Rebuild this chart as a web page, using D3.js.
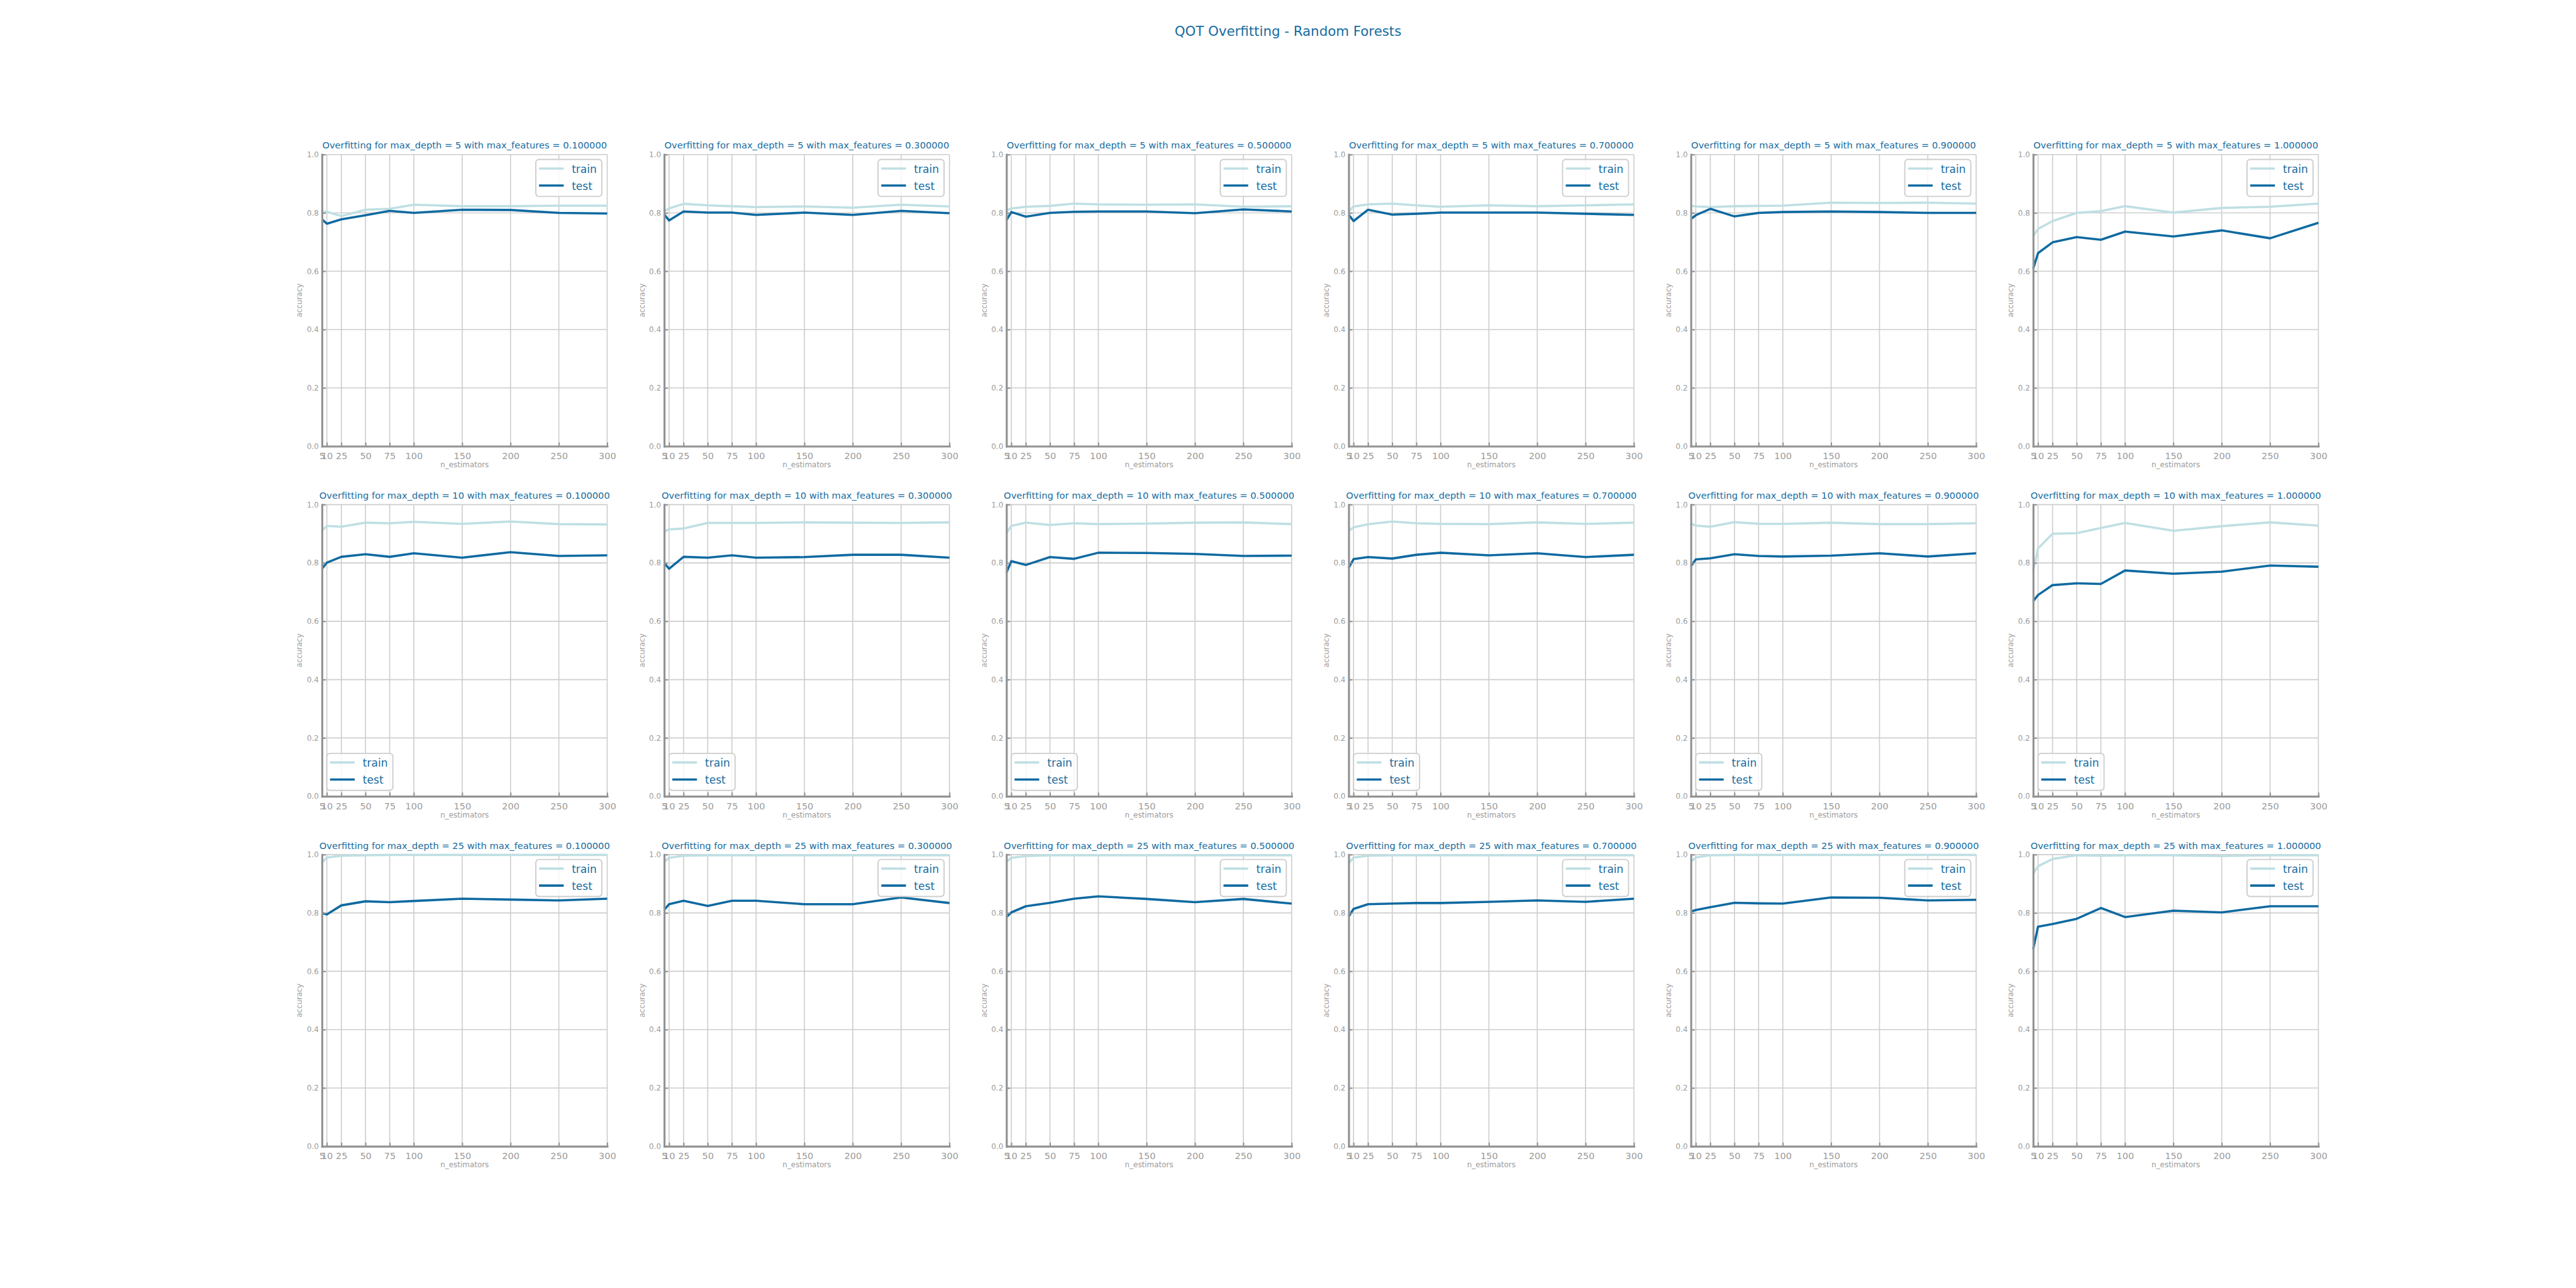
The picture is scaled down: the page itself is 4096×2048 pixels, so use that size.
<!DOCTYPE html>
<html>
<head>
<meta charset="utf-8">
<script src="https://cdn.jsdelivr.net/npm/d3@7"></script>
<style>
html,body{margin:0;padding:0;background:#fff;}
svg{display:block;}
</style>
</head>
<body>
<script>
// ---- data ----
const nEstimators = [5, 10, 25, 50, 75, 100, 150, 200, 250, 300];
const maxDepths = [5, 10, 25];
const maxFeatures = [0.1, 0.3, 0.5, 0.7, 0.9, 1.0];
const xTickLabels = [5, 10, 25, 50, 75, 100, 150, 200, 250, 300];
const yTickLabels = [0.0, 0.2, 0.4, 0.6, 0.8, 1.0];
const seriesNames = ["train", "test"];
const legendLocs = ["upper right", "lower left", "upper right"];

const trainDepth5 = [
  [0.803, 0.804, 0.789, 0.811, 0.814, 0.828, 0.823, 0.823, 0.825, 0.825],
  [0.805, 0.815, 0.831, 0.826, 0.823, 0.820, 0.822, 0.818, 0.828, 0.822],
  [0.809, 0.815, 0.821, 0.824, 0.832, 0.829, 0.828, 0.829, 0.821, 0.823],
  [0.805, 0.822, 0.829, 0.832, 0.826, 0.821, 0.826, 0.823, 0.826, 0.829],
  [0.825, 0.822, 0.820, 0.823, 0.824, 0.825, 0.835, 0.834, 0.835, 0.832],
  [0.720, 0.745, 0.772, 0.800, 0.806, 0.823, 0.801, 0.817, 0.821, 0.832]
];
const testDepth5 = [
  [0.778, 0.763, 0.778, 0.792, 0.807, 0.800, 0.811, 0.810, 0.800, 0.798],
  [0.795, 0.774, 0.805, 0.801, 0.801, 0.793, 0.801, 0.793, 0.807, 0.799],
  [0.775, 0.803, 0.787, 0.800, 0.804, 0.805, 0.805, 0.799, 0.812, 0.805],
  [0.794, 0.772, 0.811, 0.794, 0.797, 0.801, 0.801, 0.801, 0.797, 0.793],
  [0.779, 0.792, 0.814, 0.788, 0.800, 0.803, 0.805, 0.803, 0.800, 0.800],
  [0.609, 0.662, 0.699, 0.717, 0.708, 0.736, 0.719, 0.740, 0.713, 0.766]
];
const trainDepth10 = [
  [0.911, 0.927, 0.924, 0.938, 0.936, 0.941, 0.934, 0.942, 0.933, 0.932],
  [0.908, 0.915, 0.918, 0.937, 0.937, 0.937, 0.939, 0.938, 0.937, 0.939],
  [0.902, 0.927, 0.938, 0.930, 0.936, 0.933, 0.935, 0.938, 0.939, 0.933],
  [0.910, 0.922, 0.933, 0.942, 0.936, 0.934, 0.933, 0.939, 0.934, 0.938],
  [0.935, 0.928, 0.924, 0.940, 0.934, 0.934, 0.938, 0.933, 0.933, 0.936],
  [0.774, 0.850, 0.900, 0.902, 0.920, 0.937, 0.910, 0.926, 0.939, 0.928]
];
const testDepth10 = [
  [0.780, 0.801, 0.821, 0.830, 0.821, 0.833, 0.818, 0.837, 0.824, 0.826],
  [0.800, 0.780, 0.821, 0.818, 0.826, 0.818, 0.820, 0.828, 0.828, 0.818],
  [0.767, 0.806, 0.793, 0.820, 0.814, 0.835, 0.834, 0.831, 0.824, 0.825],
  [0.783, 0.813, 0.820, 0.815, 0.828, 0.835, 0.826, 0.833, 0.820, 0.828],
  [0.789, 0.812, 0.816, 0.830, 0.824, 0.822, 0.825, 0.833, 0.822, 0.833],
  [0.669, 0.690, 0.724, 0.730, 0.728, 0.774, 0.763, 0.770, 0.791, 0.787]
];
const trainDepth25 = [
  [0.972, 0.990, 0.996, 0.998, 0.999, 0.999, 0.999, 0.999, 0.999, 0.999],
  [0.976, 0.989, 0.996, 0.998, 0.998, 0.998, 0.998, 0.998, 0.998, 0.998],
  [0.976, 0.989, 0.995, 0.998, 0.998, 0.998, 0.998, 0.998, 0.998, 0.998],
  [0.970, 0.990, 0.996, 0.998, 0.998, 0.998, 0.998, 0.998, 0.998, 0.998],
  [0.976, 0.990, 0.998, 0.999, 0.999, 0.999, 0.999, 0.999, 0.999, 0.999],
  [0.935, 0.960, 0.985, 0.998, 0.996, 0.998, 0.998, 0.995, 0.998, 0.998]
];
const testDepth25 = [
  [0.800, 0.795, 0.826, 0.840, 0.837, 0.841, 0.849, 0.846, 0.843, 0.849],
  [0.811, 0.830, 0.842, 0.824, 0.842, 0.842, 0.830, 0.830, 0.853, 0.834],
  [0.786, 0.802, 0.823, 0.835, 0.849, 0.857, 0.848, 0.837, 0.848, 0.832],
  [0.788, 0.814, 0.830, 0.832, 0.834, 0.834, 0.838, 0.843, 0.838, 0.849],
  [0.805, 0.810, 0.820, 0.835, 0.833, 0.832, 0.853, 0.852, 0.843, 0.845],
  [0.676, 0.753, 0.762, 0.780, 0.817, 0.786, 0.808, 0.802, 0.823, 0.823]
];
const trainByDepth = [trainDepth5, trainDepth10, trainDepth25];
const testByDepth = [testDepth5, testDepth10, testDepth25];

// ---- style ----
const FONT = "'DejaVu Sans', 'Liberation Sans', sans-serif";
const BLUE_TEXT = "#176ca0";
const TEST_COLOR = "#0f6aa1";
const TRAIN_COLOR = "#bfdfe3";
const GRAY_TEXT = "#9b9b9b";
const SPINE = "#929292";
const GRID = "#cdcdcd";

const W = 4800, H = 2400;
const svg = d3.select("body").append("svg")
  .attr("width", 4096).attr("height", 2048)
  .attr("viewBox", `0 0 ${W} ${H}`)
  .style("font-family", FONT);
svg.append("rect").attr("width", W).attr("height", H).attr("fill", "#fff");

// figure title
svg.append("text")
  .attr("x", W / 2).attr("y", 67)
  .attr("text-anchor", "middle")
  .attr("font-size", 25)
  .attr("fill", BLUE_TEXT)
  .text("QOT Overfitting - Random Forests");

// subplot layout (matplotlib defaults)
const figL = 0.125 * W, figR = 0.9 * W, figT = (1 - 0.88) * H, figB = (1 - 0.11) * H;
const nCols = maxFeatures.length, nRows = maxDepths.length;
const wspace = 0.2, hspace = 0.2;
const axW = (figR - figL) / (nCols + (nCols - 1) * wspace);
const axH = (figB - figT) / (nRows + (nRows - 1) * hspace);

const x = d3.scaleLinear().domain([5, 300]).range([0, axW]);
const y = d3.scaleLinear().domain([0, 1]).range([axH, 0]);

maxDepths.forEach((depth, r) => {
  maxFeatures.forEach((feat, c) => {
    const ox = figL + c * axW * (1 + wspace);
    const oy = figT + r * axH * (1 + hspace);
    const g = svg.append("g").attr("transform", `translate(${ox},${oy})`);

    // grid
    g.append("g").selectAll("line").data(xTickLabels).join("line")
      .attr("x1", d => x(d)).attr("x2", d => x(d))
      .attr("y1", 0).attr("y2", axH)
      .attr("stroke", GRID).attr("stroke-width", 1.9);
    g.append("g").selectAll("line").data(yTickLabels).join("line")
      .attr("x1", 0).attr("x2", axW)
      .attr("y1", d => y(d)).attr("y2", d => y(d))
      .attr("stroke", GRID).attr("stroke-width", 1.9);

    // series lines
    const line = d3.line().x((d, i) => x(nEstimators[i])).y(d => y(d));
    const train = trainByDepth[r][c], test = testByDepth[r][c];
    g.append("path").datum(train).attr("d", line)
      .attr("fill", "none").attr("stroke", TRAIN_COLOR)
      .attr("stroke-width", 4.2).attr("stroke-linejoin", "round");
    g.append("path").datum(test).attr("d", line)
      .attr("fill", "none").attr("stroke", TEST_COLOR)
      .attr("stroke-width", 4.2).attr("stroke-linejoin", "round");

    // axes
    const xAxis = d3.axisBottom(x).tickValues(xTickLabels).tickFormat(d3.format("d"))
      .tickSizeInner(-7).tickSizeOuter(0).tickPadding(12);
    const gx = g.append("g").attr("transform", `translate(0,${axH})`).call(xAxis);
    gx.select(".domain").attr("stroke", SPINE).attr("stroke-width", 3.7).attr("stroke-linecap", "square");
    gx.selectAll(".tick line").attr("stroke", SPINE).attr("stroke-width", 2.4);
    gx.selectAll(".tick text").attr("fill", GRAY_TEXT).attr("font-size", 17).attr("font-family", FONT);

    const yAxis = d3.axisLeft(y).tickValues(yTickLabels).tickFormat(d3.format(".1f"))
      .tickSizeInner(-7).tickSizeOuter(0).tickPadding(6);
    const gy = g.append("g").call(yAxis);
    gy.select(".domain").attr("stroke", SPINE).attr("stroke-width", 3.7).attr("stroke-linecap", "square");
    gy.selectAll(".tick line").attr("stroke", SPINE).attr("stroke-width", 2.4);
    gy.selectAll(".tick text").attr("fill", GRAY_TEXT).attr("font-size", 14).attr("font-family", FONT);

    // axis labels
    g.append("text")
      .attr("x", axW / 2).attr("y", axH + 39.5)
      .attr("text-anchor", "middle").attr("font-size", 14).attr("fill", GRAY_TEXT)
      .text("n_estimators");
    g.append("text")
      .attr("transform", `translate(-37,${axH / 2}) rotate(-90)`)
      .attr("text-anchor", "middle").attr("font-size", 14).attr("fill", GRAY_TEXT)
      .text("accuracy");

    // subplot title
    g.append("text")
      .attr("x", axW / 2).attr("y", -11)
      .attr("text-anchor", "middle").attr("font-size", 17.2).attr("fill", BLUE_TEXT)
      .text(`Overfitting for max_depth = ${depth} with max_features = ${feat.toFixed(6)}`);

    // legend
    const lw = 123, lh = 69;
    const loc = legendLocs[r];
    const lx = loc === "upper right" ? axW - 10 - lw : 9;
    const ly = loc === "upper right" ? 9 : axH - 11 - lh;
    const lg = g.append("g").attr("transform", `translate(${lx},${ly})`);
    lg.append("rect").attr("width", lw).attr("height", lh).attr("rx", 6)
      .attr("fill", "#fff").attr("fill-opacity", 0.8)
      .attr("stroke", GRID).attr("stroke-width", 2.2);
    const colors = [TRAIN_COLOR, TEST_COLOR];
    seriesNames.forEach((name, i) => {
      const ry = 17 + i * 31.7;
      lg.append("line").attr("x1", 6).attr("x2", 52).attr("y1", ry).attr("y2", ry)
        .attr("stroke", colors[i]).attr("stroke-width", 4.2);
      lg.append("text").attr("x", 67).attr("y", ry + 8)
        .attr("font-size", 20).attr("fill", BLUE_TEXT).text(name);
    });
  });
});
</script>
</body>
</html>
